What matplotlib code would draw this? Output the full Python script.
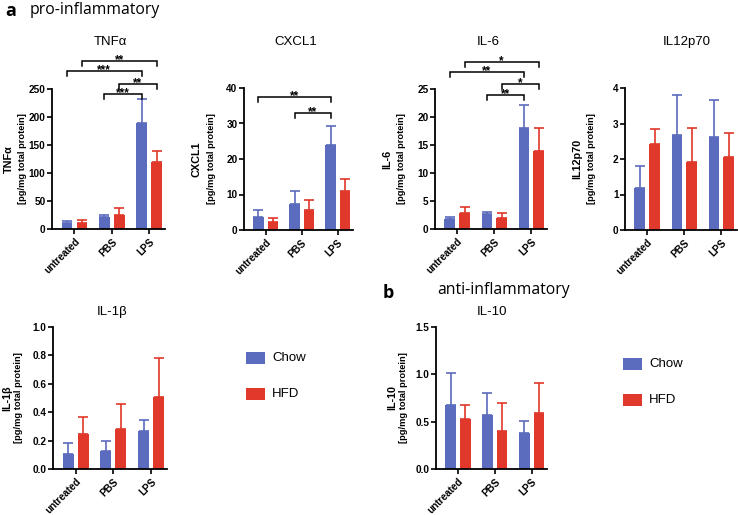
import matplotlib
matplotlib.use('Agg')
import matplotlib.pyplot as plt
from matplotlib.patches import Rectangle
from matplotlib.transforms import ScaledTranslation
import numpy as np

plt.rcParams['font.family'] = ['Liberation Sans', 'DejaVu Sans']

# ---------------- data ----------------
categories = ['untreated', 'PBS', 'LPS']
series = ['Chow', 'HFD']
colors = ['#5b6bbd', '#e0382a']

tnfa_chow = [10.8, 21.0, 190.0]
tnfa_chow_err = [3.0, 3.5, 42.0]
tnfa_hfd = [11.4, 25.7, 120.0]
tnfa_hfd_err = [4.6, 11.3, 20.0]

cxcl1_chow = [3.6, 7.2, 23.9]
cxcl1_chow_err = [1.9, 3.8, 5.4]
cxcl1_hfd = [2.35, 5.5, 11.0]
cxcl1_hfd_err = [0.95, 2.9, 3.3]

il6_chow = [1.7, 2.7, 18.0]
il6_chow_err = [0.4, 0.3, 4.2]
il6_hfd = [2.8, 2.0, 14.0]
il6_hfd_err = [1.2, 0.8, 4.0]

il12_chow = [1.18, 2.69, 2.63]
il12_chow_err = [0.62, 1.11, 1.02]
il12_hfd = [2.43, 1.91, 2.05]
il12_hfd_err = [0.42, 0.97, 0.69]

il1b_chow = [0.108, 0.124, 0.27]
il1b_chow_err = [0.072, 0.071, 0.073]
il1b_hfd = [0.244, 0.284, 0.505]
il1b_hfd_err = [0.12, 0.171, 0.279]

il10_chow = [0.676, 0.567, 0.377]
il10_chow_err = [0.334, 0.233, 0.126]
il10_hfd = [0.528, 0.405, 0.59]
il10_hfd_err = [0.152, 0.292, 0.32]

# significance brackets: (series_a, cat_a, series_b, cat_b, y, label)
tnfa_sig = [(1, 0, 1, 2, 300, '**'), (0, 0, 0, 2, 282, '***'),
            (1, 1, 1, 2, 259, '**'), (0, 1, 0, 2, 241, '***')]
cxcl1_sig = [(0, 0, 0, 2, 37.5, '**'), (0, 1, 0, 2, 33.0, '**')]
il6_sig = [(1, 0, 1, 2, 29.8, '*'), (0, 0, 0, 2, 28.0, '**'),
           (1, 1, 1, 2, 25.9, '*'), (0, 1, 0, 2, 23.9, '**')]

# ---------------- figure ----------------
W, H = 738, 515
fig = plt.figure(figsize=(W / 100, H / 100), dpi=100)

OFFS = [-0.2, 0.2]
BW = 0.29


def px_ax(left, top, right, bottom):
    return fig.add_axes([left / W, 1 - bottom / H, (right - left) / W, (bottom - top) / H])


def panel(box, title, title_xy, ylab, ylab_offs, chow, chow_err, hfd, hfd_err,
          yticks, fmt, sig=None):
    left, top, right, bottom = box
    ax = px_ax(*box)
    x = np.arange(len(categories))
    for i, (vals, errs) in enumerate([(chow, chow_err), (hfd, hfd_err)]):
        ax.bar(x + OFFS[i], vals, width=BW, color=colors[i], edgecolor='none',
               yerr=[np.zeros(len(errs)), errs],
               error_kw=dict(ecolor=colors[i], elinewidth=1.2, capsize=3.5, capthick=1.2))
    ax.set_xlim(-0.6, 2.42)
    ax.set_ylim(yticks[0], yticks[-1])
    ax.set_yticks(yticks)
    ax.set_yticklabels([fmt.format(t) for t in yticks], fontsize=7.2, fontweight='bold')
    ax.set_xticks(x)
    ax.set_xticklabels(categories, rotation=45, ha='right', va='top',
                       rotation_mode='anchor', fontsize=7.2, fontweight='bold')
    shift = ScaledTranslation(-0.035, 0.02, fig.dpi_scale_trans)
    for lbl in ax.get_xticklabels():
        lbl.set_transform(lbl.get_transform() + shift)
    for s in ['top', 'right']:
        ax.spines[s].set_visible(False)
    for s in ['left', 'bottom']:
        ax.spines[s].set_linewidth(1.3)
    ax.tick_params(axis='both', length=3.5, width=1.2, pad=1.2)
    ax.tick_params(axis='x', pad=2)
    # title
    fig.text(title_xy[0] / W, 1 - title_xy[1] / H, title, ha='center', va='center',
             fontsize=9.5)
    # y labels
    yc = 1 - (top + bottom) / 2 / H
    fig.text((left + ylab_offs[0]) / W, yc, ylab, rotation=90, ha='center', va='center',
             fontsize=7.8, fontweight='bold')
    fig.text((left + ylab_offs[1]) / W, yc, '[pg/mg total protein]', rotation=90,
             ha='center', va='center', fontsize=6.7, fontweight='bold')
    if sig:
        d = 0.033 * yticks[-1]
        for sa, ca, sb, cb, y, lab in sig:
            x1 = ca + OFFS[sa]
            x2 = cb + OFFS[sb]
            ax.plot([x1, x1, x2, x2], [y - d, y, y, y - d], color='black', lw=1.1,
                    clip_on=False, solid_joinstyle='miter')
            ax.text((x1 + x2) / 2, y + d * 0.2, lab, ha='center', va='center',
                    fontsize=8.5, fontweight='bold', clip_on=False)
    return ax


panel((52, 89, 165, 229), 'TNFα', (110, 42), 'TNFα', (-43, -29),
      tnfa_chow, tnfa_chow_err, tnfa_hfd, tnfa_hfd_err,
      [0, 50, 100, 150, 200, 250], '{:.0f}', tnfa_sig)
panel((244, 88, 353, 230), 'CXCL1', (296, 42), 'CXCL1', (-47, -33),
      cxcl1_chow, cxcl1_chow_err, cxcl1_hfd, cxcl1_hfd_err,
      [0, 10, 20, 30, 40], '{:.0f}', cxcl1_sig)
panel((435, 89, 547, 229), 'IL-6', (488, 42), 'IL-6', (-48, -33),
      il6_chow, il6_chow_err, il6_hfd, il6_hfd_err,
      [0, 5, 10, 15, 20, 25], '{:.0f}', il6_sig)
panel((625, 88, 737, 230), 'IL12p70', (687, 42), 'IL12p70', (-48, -34),
      il12_chow, il12_chow_err, il12_hfd, il12_hfd_err,
      [0, 1, 2, 3, 4], '{:.0f}')
panel((53, 327, 167, 469), 'IL-1β', (112, 312), 'IL-1β', (-46, -34),
      il1b_chow, il1b_chow_err, il1b_hfd, il1b_hfd_err,
      [0.0, 0.2, 0.4, 0.6, 0.8, 1.0], '{:.1f}')
panel((436, 327, 547, 469), 'IL-10', (492, 312), 'IL-10', (-44, -33),
      il10_chow, il10_chow_err, il10_hfd, il10_hfd_err,
      [0.0, 0.5, 1.0, 1.5], '{:.1f}')


# legends
def legend(x_box, x_text, ys):
    for i, name in enumerate(series):
        yc = ys[i]
        fig.add_artist(Rectangle((x_box / W, 1 - (yc + 6) / H), 19 / W, 12 / H,
                                 transform=fig.transFigure, facecolor=colors[i],
                                 edgecolor='none'))
        fig.text(x_text / W, 1 - yc / H, name, ha='left', va='center', fontsize=9.5)


legend(246, 272, [358, 394])
legend(623, 649, [364, 400])

# section headings
fig.text(5 / W, 1 - 11 / H, 'a', fontsize=13, fontweight='bold', family='Open Sans',
         ha='left', va='center')
fig.text(30 / W, 1 - 10 / H, 'pro-inflammatory', fontsize=11.3, family='Open Sans',
         ha='left', va='center')
fig.text(383 / W, 1 - 293 / H, 'b', fontsize=13, fontweight='bold', family='Open Sans',
         ha='left', va='center')
fig.text(437 / W, 1 - 290 / H, 'anti-inflammatory', fontsize=11.3, family='Open Sans',
         ha='left', va='center')

fig.savefig('out.png', dpi=100)
